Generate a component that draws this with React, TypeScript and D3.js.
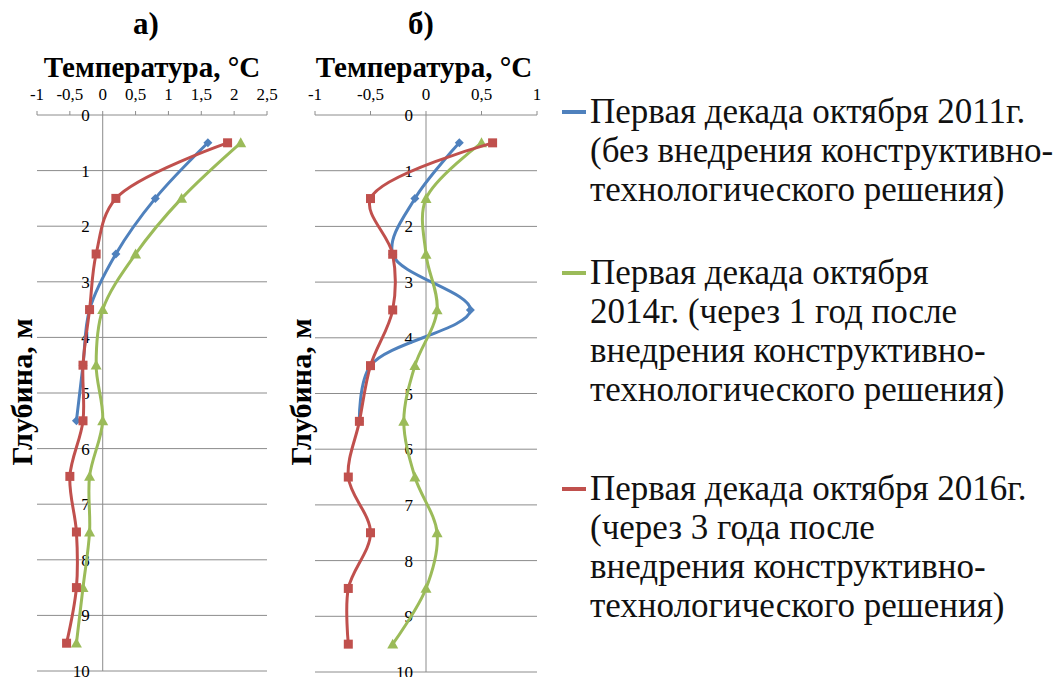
import React from "react";
import * as d3 from "d3";

// Depths of the measurement points, m
const depthsFull = [0.5, 1.5, 2.5, 3.5, 4.5, 5.5, 6.5, 7.5, 8.5, 9.5];
const depthsShort = [0.5, 1.5, 2.5, 3.5, 4.5, 5.5];

// Panel а) temperatures, °C
const a2011 = [1.6, 0.8, 0.2, -0.2, -0.3, -0.4];
const a2014 = [2.1, 1.2, 0.5, 0, -0.1, 0, -0.2, -0.2, -0.3, -0.4];
const a2016 = [1.9, 0.2, -0.1, -0.2, -0.3, -0.3, -0.5, -0.4, -0.4, -0.55];

// Panel б) temperatures, °C
const b2011 = [0.3, -0.1, -0.3, 0.4, -0.5, -0.6];
const b2014 = [0.5, 0, 0, 0.1, -0.1, -0.2, -0.1, 0.1, 0, -0.3];
const b2016 = [0.6, -0.5, -0.3, -0.3, -0.5, -0.6, -0.7, -0.5, -0.7, -0.7];

const ticksA = [-1, -0.5, 0, 0.5, 1, 1.5, 2, 2.5];
const ticksB = [-1, -0.5, 0, 0.5, 1];
const depthTicks = [0, 1, 2, 3, 4, 5, 6, 7, 8, 9, 10];

const legendItems = [
  { key: "2011", lines: ["Первая декада октября 2011г.", "(без внедрения конструктивно-", "технологического решения)"] },
  { key: "2014", lines: ["Первая декада октября", "2014г. (через 1 год после", "внедрения конструктивно-", "технологического решения)"] },
  { key: "2016", lines: ["Первая декада октября 2016г.", "(через 3 года после", "внедрения конструктивно-", "технологического решения)"] },
];

const colors: Record<string, string> = { "2011": "#4F81BD", "2014": "#9BBB59", "2016": "#C0504D" };
const FONT = "Liberation Serif";
const GRID = "#8c8c8c";

type Series = { key: string; depths: number[]; temps: number[] };

function Marker({ kind, x, y, color }: { kind: string; x: number; y: number; color: string }) {
  if (kind === "2011") {
    const r = 4.5;
    return <path d={`M${x},${y - r}L${x + r},${y}L${x},${y + r}L${x - r},${y}Z`} fill={color} />;
  }
  if (kind === "2016") {
    return <rect x={x - 4.5} y={y - 4.5} width={9} height={9} fill={color} />;
  }
  const s = 5.5;
  return <path d={`M${x},${y - s}L${x + s},${y + s * 0.8}L${x - s},${y + s * 0.8}Z`} fill={color} />;
}

function Panel({ title, titleX, headX, domain, ticks, x0, x1, yBottom, labelX, series }: {
  title: string; titleX: number; headX: number; domain: [number, number]; ticks: number[]; x0: number; x1: number; yBottom: number; labelX: number; series: Series[];
}) {
  const x = d3.scaleLinear().domain(domain).range([x0, x1]);
  const y = d3.scaleLinear().domain([0, 10]).range([115, yBottom]);
  const line = d3.line<[number, number]>()
    .x((d) => x(d[0]))
    .y((d) => y(d[1]))
    .curve(d3.curveCatmullRom.alpha(0.5));
  const fmt = (v: number) => String(v).replace(".", ",");
  return (
    <g fontFamily={FONT}>
      <text x={titleX} y={34} textAnchor="middle" fontWeight="bold" fontSize={31}>{title}</text>
      <text x={headX} y={77} textAnchor="middle" fontWeight="bold" fontSize={29}>Температура, °С</text>
      {/* horizontal gridlines */}
      {depthTicks.map((d) => (
        <line key={d} x1={x0} x2={x1} y1={y(d)} y2={y(d)} stroke={GRID} strokeWidth={1} />
      ))}
      {/* top temperature axis ticks */}
      {ticks.map((t) => (
        <g key={t}>
          <line x1={x(t)} x2={x(t)} y1={y(0) - 4} y2={y(0)} stroke={GRID} strokeWidth={1} />
          <text x={x(t)} y={100} textAnchor="middle" fontSize={17}>{fmt(t)}</text>
        </g>
      ))}
      {/* vertical axis at 0 °C */}
      <line x1={x(0)} x2={x(0)} y1={y(0)} y2={y(10)} stroke={GRID} strokeWidth={1} />
      {depthTicks.map((d) => (
        <text key={d} x={x(0) - 13} y={y(d) + 6} textAnchor="end" fontSize={17}>{d}</text>
      ))}
      <text transform={`translate(${labelX},392) rotate(-90)`} textAnchor="middle" dominantBaseline="central" fontWeight="bold" fontSize={30}>Глубина, м</text>
      {series.map((s) => {
        const pts = s.temps.map((t, i) => [t, s.depths[i]] as [number, number]);
        return (
          <g key={s.key}>
            <path d={line(pts) || ""} fill="none" stroke={colors[s.key]} strokeWidth={3} />
            {pts.map((p, i) => (
              <Marker key={i} kind={s.key} x={x(p[0])} y={y(p[1])} color={colors[s.key]} />
            ))}
          </g>
        );
      })}
    </g>
  );
}

export default function App() {
  const seriesA: Series[] = [
    { key: "2014", depths: depthsFull, temps: a2014 },
    { key: "2011", depths: depthsShort, temps: a2011 },
    { key: "2016", depths: depthsFull, temps: a2016 },
  ];
  const seriesB: Series[] = [
    { key: "2011", depths: depthsShort, temps: b2011 },
    { key: "2014", depths: depthsFull, temps: b2014 },
    { key: "2016", depths: depthsFull, temps: b2016 },
  ];
  const legendStarts = [123, 284, 500];
  return (
    <svg width={1057} height={677} style={{ position: "absolute", left: 0, top: 0, background: "#fff" }}>
      <rect width={1057} height={677} fill="#fff" />
      <Panel title="а)" titleX={146} headX={152} domain={[-1, 2.5]} ticks={ticksA} x0={37} x1={267} yBottom={671} labelX={21} series={seriesA} />
      <Panel title="б)" titleX={421} headX={424} domain={[-1, 1]} ticks={ticksB} x0={315} x1={537} yBottom={672} labelX={300} series={seriesB} />
      {legendItems.map((item, k) => (
        <g key={item.key} fontFamily={FONT}>
          <line x1={562} x2={586} y1={legendStarts[k] - 11} y2={legendStarts[k] - 11} stroke={colors[item.key]} strokeWidth={4} />
          {item.lines.map((ln, i) => (
            <text key={i} x={590} y={legendStarts[k] + i * 39} fontSize={35} fill="#111">{ln}</text>
          ))}
        </g>
      ))}
    </svg>
  );
}
